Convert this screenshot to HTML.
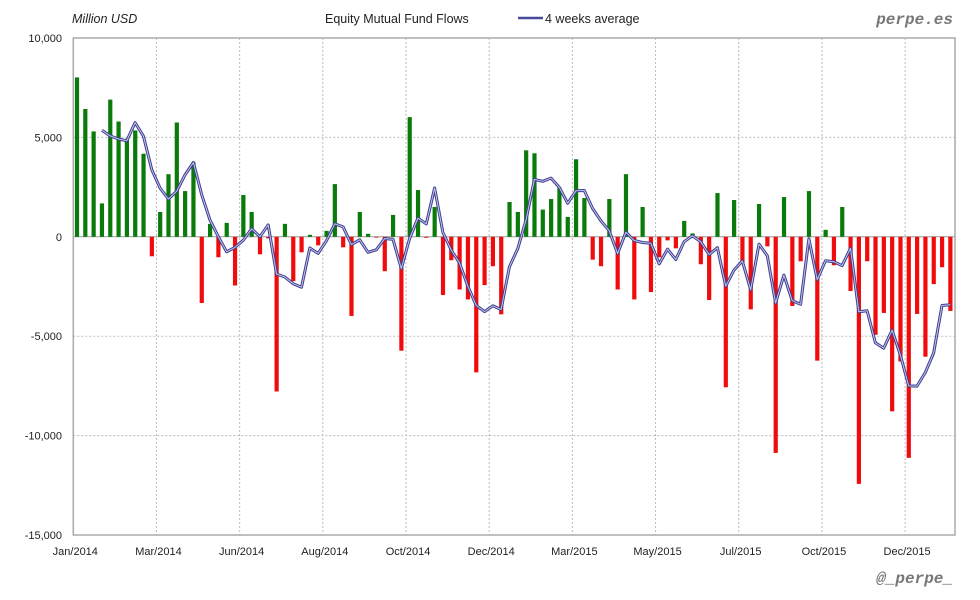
<!DOCTYPE html>
<html><head><meta charset="utf-8"><style>
body{margin:0;background:#fff;width:980px;height:600px;overflow:hidden;font-family:"Liberation Sans",sans-serif}
svg{display:block}
</style></head><body>
<svg id="chart" width="980" height="600">
<text x="72" y="23" font-size="12.5" font-style="italic" fill="#222">Million USD</text>
<text x="325" y="23" font-size="12.5" fill="#222">Equity Mutual Fund Flows</text>
<g>
<line x1="518" y1="18" x2="543" y2="18" stroke="#4a4a9a" stroke-width="2.5"/>
<text x="545" y="23" font-size="12.5" fill="#222">4 weeks average</text>
</g>
<text x="953" y="24" font-size="16" font-weight="bold" font-style="italic" font-family="Liberation Mono, monospace" fill="#777" text-anchor="end">perpe.es</text>
<text x="953" y="583" font-size="16" font-weight="bold" font-style="italic" font-family="Liberation Mono, monospace" fill="#777" text-anchor="end">@_perpe_</text>
<g id="grid"></g><g id="bars"></g><g id="line"></g><g id="axes"></g>
</svg>
<script>
const values=[8017,6430,5300,1680,6900,5800,4930,5350,4180,-980,1250,3150,5750,2300,3750,-3330,650,-1030,700,-2450,2100,1250,-880,-80,-7780,650,-2230,-780,100,-430,300,2650,-530,-3980,1250,150,-30,-1730,1100,-5730,6020,2350,-50,1500,-2930,-1180,-2650,-3150,-6820,-2430,-1480,-3900,1750,1250,4350,4200,1370,1900,2470,1000,3900,1950,-1150,-1480,1900,-2650,3150,-3150,1500,-2780,-1030,-180,-580,800,170,-1380,-3180,2200,-7570,1850,-1320,-3650,1650,-480,-10870,2000,-3480,-1230,2300,-6230,350,-1430,1500,-2730,-12430,-1230,-4930,-3830,-8780,-6270,-11120,-3880,-6030,-2380,-1530,-3730];
const yTicks=[10000,5000,0,-5000,-10000,-15000];
const xLabels=["Jan/2014","Mar/2014","Jun/2014","Aug/2014","Oct/2014","Dec/2014","Mar/2015","May/2015","Jul/2015","Oct/2015","Dec/2015"];
const NS="http://www.w3.org/2000/svg";
const L=73.3,R=955,T=38,B=535;
const band=(R-L)/values.length;
function xs(i){return L+band*i+3.6;}
function ys(v){return T+(10000-v)*(B-T)/25000;}
function mk(t,a,p){const e=document.createElementNS(NS,t);for(const k in a)e.setAttribute(k,a[k]);p.appendChild(e);return e;}
const grid=document.getElementById('grid'),bars=document.getElementById('bars'),line=document.getElementById('line'),axes=document.getElementById('axes');
yTicks.forEach(v=>{
 const g=mk('line',{x1:L,x2:R,y1:ys(v),y2:ys(v),stroke:v===0?'#999':'#bbb','stroke-dasharray':v===0?'':'2,2'},grid);
 
 
 const t=mk('text',{x:62,y:ys(v)+4,'font-size':11,fill:'#222','text-anchor':'end'},axes);
 t.textContent=v.toLocaleString('en-US');
 
 
});
xLabels.forEach((s,k)=>{
 const x=L+band*10*k;
 if(k>0){const g=mk('line',{x1:x,x2:x,y1:T,y2:B,stroke:'#bbb','stroke-dasharray':'2,2'},grid);
 
 }
 const t=mk('text',{x:x+2,y:555,'font-size':11,fill:'#222','text-anchor':'middle'},axes);
 t.textContent=s;
 
 
});
const fr=mk('rect',{x:L,y:T,width:R-L,height:B-T,fill:'none',stroke:'#aaa','stroke-width':1.5},axes);


values.forEach((v,i)=>{
 const y0=ys(0),y1=ys(v);
 const r=mk('rect',{x:xs(i)-2,y:Math.min(y0,y1),width:4.2,height:Math.max(0.8,Math.abs(y1-y0)),fill:v>=0?'#0a7a0a':'#f00c0c'},bars);
 
 
});
let pts=[];
for(let i=3;i<values.length;i++){const a=(values[i]+values[i-1]+values[i-2]+values[i-3])/4;pts.push(xs(i).toFixed(1)+','+ys(a).toFixed(1));}
const p1=mk('polyline',{points:pts.join(' '),fill:'none',stroke:'#3e3e8e','stroke-width':3,'stroke-linejoin':'round'},line);


const p2=mk('polyline',{points:pts.join(' '),fill:'none',stroke:'#c4c4ee','stroke-width':1,'stroke-linejoin':'round'},line);


</script>
</body></html>
